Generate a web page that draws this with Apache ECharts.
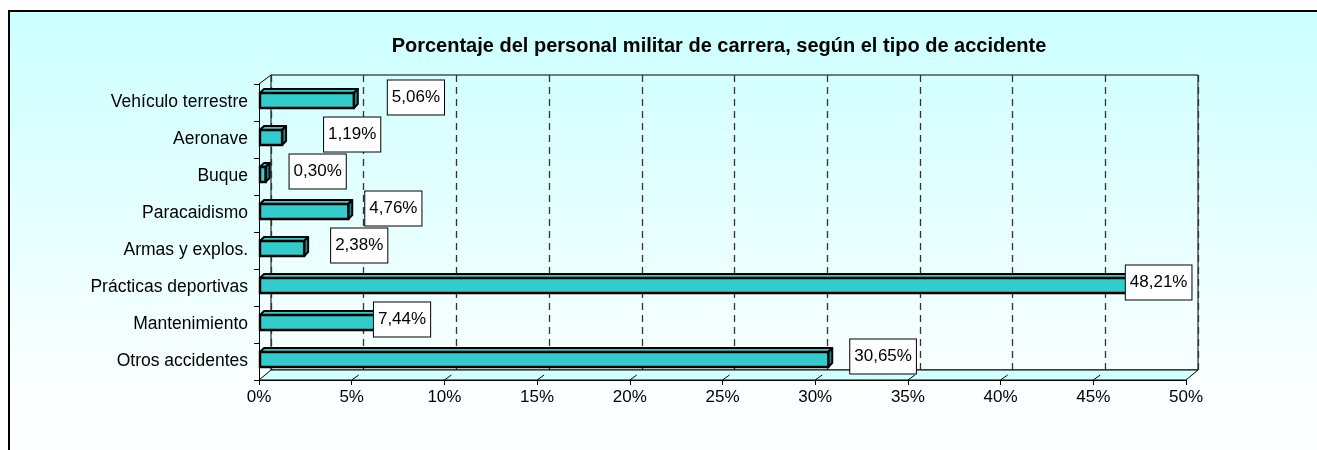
<!DOCTYPE html>
<html>
<head>
<meta charset="utf-8">
<script src="https://cdn.jsdelivr.net/npm/echarts@6/dist/echarts.min.js"></script>
<style>
  html, body { margin: 0; padding: 0; background: #fff; overflow: hidden; }
  #chart { width: 1317px; height: 450px; }
</style>
</head>
<body>
<div id="chart"></div>
<script>
// datos
const categories = ['Vehículo terrestre', 'Aeronave', 'Buque', 'Paracaidismo', 'Armas y explos.', 'Prácticas deportivas', 'Mantenimiento', 'Otros accidentes'];
const values = [5.06, 1.19, 0.30, 4.76, 2.38, 48.21, 7.44, 30.65];
const xTicks = [0, 5, 10, 15, 20, 25, 30, 35, 40, 45, 50];
const title = 'Porcentaje del personal militar de carrera, según el tipo de accidente';

// desplazamiento horizontal de cada etiqueta (como en el original)
const labelNudge = [30, 38, 20, 13, 23, -32, -28, 18];

const FONT = '"Liberation Sans", Arial, sans-serif';
const front = { left: 259, top: 84, width: 927, height: 296 };
const back = { left: 271, top: 75, width: 927, height: 295 };

const fmt = (v) => v.toFixed(2).replace('.', ',') + '%';

function renderBar(params, api) {
  const v = api.value(0);
  const i = api.value(1);
  const p0 = api.coord([0, i]);
  const p1 = api.coord([v, i]);
  const h = 15, d = 4;
  const x0 = p0[0] + 1, x1 = p1[0] + 1;
  const yc = p0[1] - 2;
  const yt = yc - h / 2, yb = yc + h / 2;
  return {
    type: 'group',
    children: [
      { type: 'polygon', shape: { points: [[x0, yt], [x0 + d, yt - d], [x1 + d, yt - d], [x1, yt]] },
        style: { fill: '#33cccc', stroke: '#000', lineWidth: 2, lineJoin: 'round' } },
      { type: 'polygon', shape: { points: [[x1, yt], [x1 + d, yt - d], [x1 + d, yb - d], [x1, yb]] },
        style: { fill: '#1a8585', stroke: '#000', lineWidth: 2, lineJoin: 'round' } },
      { type: 'rect', shape: { x: x0, y: yt, width: x1 - x0, height: h },
        style: { fill: '#33cccc', stroke: '#000', lineWidth: 2.4 } },
      { type: 'text', z2: 10,
        style: {
          text: fmt(v), x: x1 + d + labelNudge[i], y: yc - 3,
          font: '17px ' + FONT, fill: '#000', align: 'left', verticalAlign: 'middle',
          backgroundColor: '#fff', borderColor: '#000', borderWidth: 1, padding: [9, 4, 8, 4]
        } }
    ]
  };
}

const chart = echarts.init(document.getElementById('chart'));

const option = {
  animation: false,
  grid: [
    Object.assign({ show: false }, front),
    Object.assign({ show: true, borderColor: '#000', borderWidth: 1, backgroundColor: 'transparent' }, back)
  ],
  xAxis: [
    {
      type: 'value', gridIndex: 0, min: 0, max: 50, interval: 5,
      axisLine: { show: true, lineStyle: { color: '#000', width: 1 } },
      axisTick: { show: true, length: 5, lineStyle: { color: '#000' } },
      axisLabel: { formatter: '{value}%', color: '#000', fontSize: 17, fontFamily: FONT, margin: 9 },
      splitLine: { show: false }
    },
    {
      type: 'value', gridIndex: 1, min: 0, max: 50, interval: 5,
      axisLine: { show: false }, axisTick: { show: false }, axisLabel: { show: false },
      splitLine: { show: true, lineStyle: { color: '#333', width: 1.3, type: [7, 5] } }
    }
  ],
  yAxis: [
    {
      type: 'category', gridIndex: 0, data: categories, inverse: true,
      axisLine: { show: true, lineStyle: { color: '#000', width: 1 } },
      axisTick: { show: true, length: 5, lineStyle: { color: '#000' } },
      axisLabel: { color: '#000', fontSize: 17.5, fontFamily: FONT, margin: 11 },
      splitLine: { show: false }
    },
    {
      type: 'category', gridIndex: 1, data: categories, inverse: true,
      axisLine: { show: false }, axisTick: { show: false }, axisLabel: { show: false }, splitLine: { show: false }
    }
  ],
  series: [
    {
      type: 'custom', xAxisIndex: 0, yAxisIndex: 0,
      renderItem: renderBar,
      encode: { x: 0, y: 1 },
      data: values.map((v, i) => [v, i]),
      z: 5
    }
  ]
};

chart.setOption(option);

// marco, fondo, suelo y aristas de perspectiva
const fl = front.left, fr = front.left + front.width, fb = front.top + front.height;
const bl = back.left, br = back.left + back.width, bb = back.top + back.height;
const graphics = [
  { type: 'rect', z: -10, shape: { x: 9, y: 11, width: 1320, height: 450 },
    style: { fill: new echarts.graphic.LinearGradient(0, 0, 0, 0.85, [
      { offset: 0, color: '#ccffff' }, { offset: 1, color: '#fcffff' }]) } },
  { type: 'line', z: -5, shape: { x1: 9, y1: 11, x2: 1330, y2: 11 }, style: { stroke: '#000', lineWidth: 2 } },
  { type: 'line', z: -5, shape: { x1: 9, y1: 10, x2: 9, y2: 460 }, style: { stroke: '#000', lineWidth: 2 } },
  { type: 'polygon', z: 0, shape: { points: [[fl, fb], [bl, bb], [br, bb], [fr, fb]] },
    style: { fill: '#d2ffff', stroke: '#000', lineWidth: 1 } },
  { type: 'line', z: 1, shape: { x1: fl, y1: front.top, x2: bl, y2: back.top }, style: { stroke: '#000', lineWidth: 1 } },
  { type: 'text', z: 1, style: { text: title, x: 719, y: 46, align: 'center', verticalAlign: 'middle',
    font: 'bold 20px ' + FONT, fill: '#000' } }
];
// marcas diagonales de las divisiones del eje X
xTicks.slice(1, -1).forEach((t) => {
  const x = chart.convertToPixel({ xAxisIndex: 0 }, t);
  graphics.push({ type: 'line', z: 1, shape: { x1: x, y1: fb, x2: x + 7, y2: fb - 5 }, style: { stroke: '#000', lineWidth: 1 } });
});
chart.setOption({ graphic: graphics });
</script>
</body>
</html>
